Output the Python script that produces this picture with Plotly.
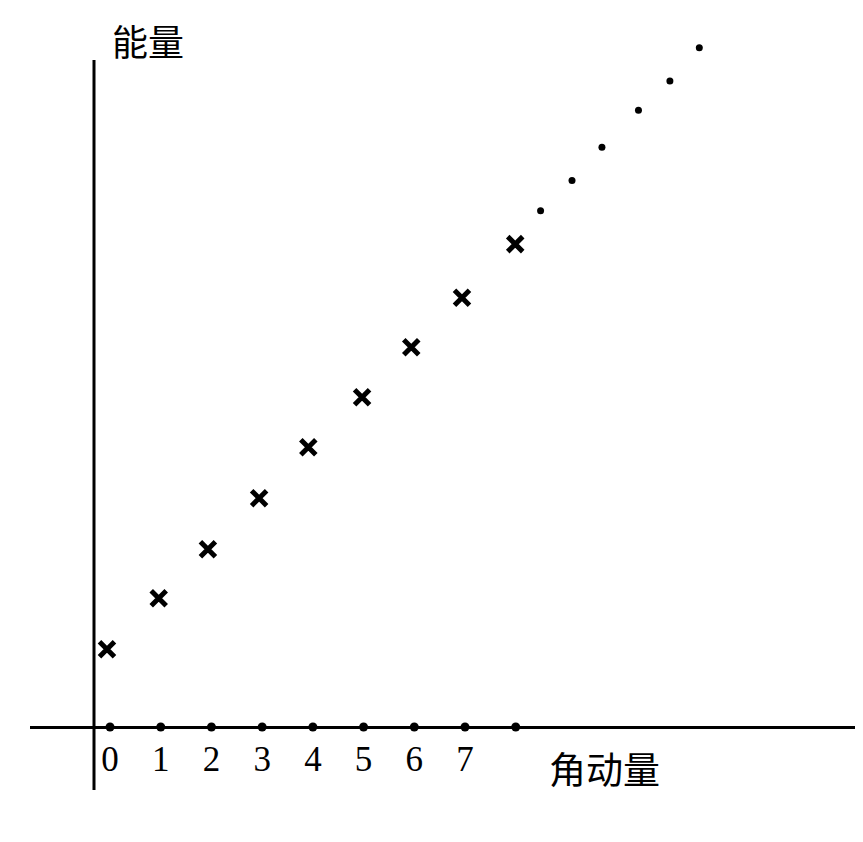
"""角动量-能量 示意图 (plotly)."""

import plotly.graph_objects as go

# 数据 (以角动量单位 / 能量单位表示)
levels = [0, 1, 2, 3, 4, 5, 6, 7, 8]
axis_energy = [0, 0, 0, 0, 0, 0, 0, 0, 0]
cross_l = [-0.06, 0.96, 1.93, 2.94, 3.91, 4.97, 5.94, 6.94, 7.99]
cross_energy = [1.54, 2.55, 3.52, 4.53, 5.54, 6.53, 7.52, 8.50, 9.56]
dot_l = [8.49, 9.11, 9.70, 10.42, 11.04, 11.62]
dot_energy = [10.22, 10.82, 11.48, 12.21, 12.79, 13.45]
tick_vals = [0, 1, 2, 3, 4, 5, 6, 7]
tick_text = ["0", "1", "2", "3", "4", "5", "6", "7"]
x_title = "角动量"
y_title = "能量"

W, H = 863, 842
PAD = 8  # 页面 body 默认边距
Y_LOW, Y_AXIS_TOP, Y_HIGH = -1.248, 13.208, 13.80

fig = go.Figure()
fig.add_trace(go.Scatter(
    x=levels, y=axis_energy, mode="markers",
    marker=dict(color="black", size=9, symbol="circle"),
    hoverinfo="skip", cliponaxis=False,
))
fig.add_trace(go.Scatter(
    x=cross_l, y=cross_energy, mode="markers",
    marker=dict(color="black", size=15, symbol="x-thin", line=dict(color="black", width=5)),
    hoverinfo="skip", cliponaxis=False,
))
fig.add_trace(go.Scatter(
    x=dot_l, y=dot_energy, mode="markers",
    marker=dict(color="black", size=7, symbol="circle"),
    hoverinfo="skip", cliponaxis=False,
))

# 纵轴线
fig.add_shape(type="line", xref="paper", yref="y",
              x0=(94 - PAD) / W, x1=(94 - PAD) / W, y0=Y_LOW, y1=Y_AXIS_TOP,
              line=dict(color="black", width=3))

# 坐标轴标题
fig.add_annotation(x=0.0, y=13.05, text=y_title, showarrow=False,
                   xanchor="left", yanchor="bottom",
                   font=dict(family="Noto Sans CJK SC", size=36, color="black"))
fig.add_annotation(x=8.62, y=0, text=x_title, showarrow=False,
                   xanchor="left", yanchor="top", yshift=-12,
                   font=dict(family="Noto Sans CJK SC", size=37, color="black"))

fig.update_layout(
    width=W,
    height=H,
    margin=dict(l=0, r=0, t=0, b=0),
    paper_bgcolor="white",
    plot_bgcolor="white",
    showlegend=False,
    xaxis=dict(
        domain=[(30 - PAD) / W, (855 - PAD) / W],
        range=[-1.578, 14.69],
        anchor="free",
        position=(H - (727 - PAD)) / H,
        showline=True, linecolor="black", linewidth=3,
        showgrid=False, zeroline=False,
        tickvals=tick_vals, ticktext=tick_text,
        ticks="", ticklabelstandoff=0,
        tickfont=dict(family="Liberation Serif", size=35, color="black"),
    ),
    yaxis=dict(
        domain=[(H - (790 - PAD)) / H, (H - (30 - PAD)) / H],
        range=[Y_LOW, Y_HIGH],
        showline=False,
        showgrid=False, zeroline=False,
        showticklabels=False, ticks="",
    ),
)

fig.write_html("out.html")
